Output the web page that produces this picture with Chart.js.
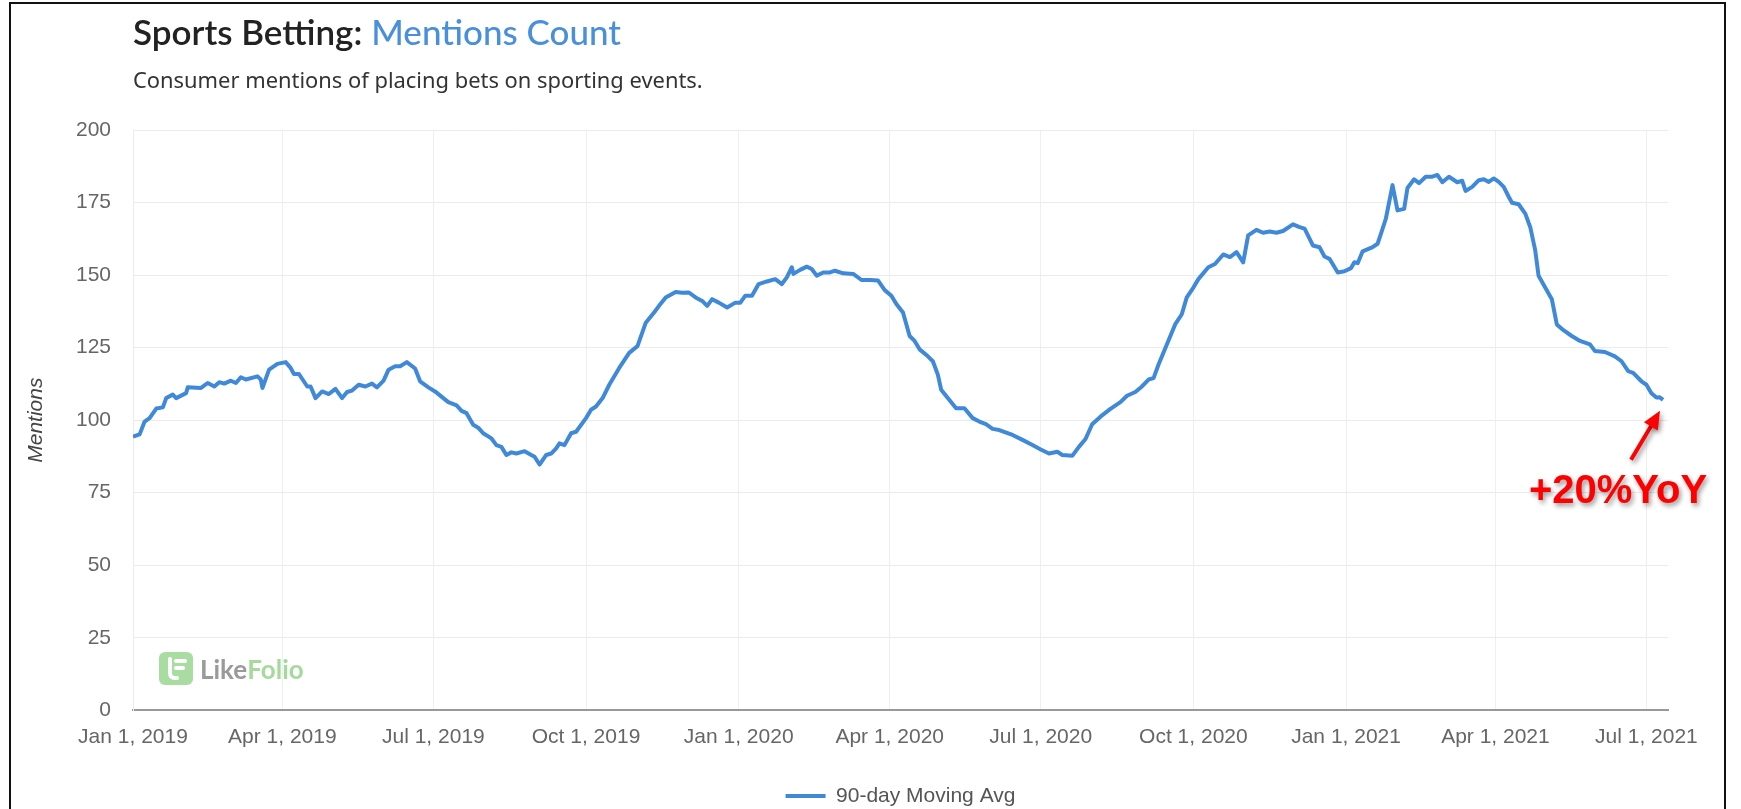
<!DOCTYPE html>
<html>
<head>
<meta charset="utf-8">
<script src="https://cdn.jsdelivr.net/npm/chart.js@4.4.1/dist/chart.umd.min.js"></script>
<style>
  html, body { margin: 0; padding: 0; width: 1741px; height: 809px; overflow: hidden; background: #fff; }
  #frame { position: absolute; left: 9px; top: 2px; width: 1717px; height: 840px; border: 2px solid #111; box-sizing: border-box; }
  #title { position: absolute; left: 133px; top: 11px; font-family: Lato, sans-serif; font-size: 35px; line-height: 40px; white-space: nowrap; }
  #title .a { color: #222; font-weight: 600; }
  #title .b { color: #4a8fdb; font-weight: 500; }
  #subtitle { position: absolute; left: 133px; top: 65px; font-family: "Noto Sans", sans-serif; font-size: 21.9px; line-height: 30px; color: #333; white-space: nowrap; }
  #wrap { position: absolute; left: 0; top: 0; width: 1741px; height: 818px; }
  #logo { position: absolute; left: 159px; top: 652px; height: 33px; display: flex; align-items: center; font-family: Lato, sans-serif; font-weight: 700; font-size: 26px; }
  #logo svg { margin-right: 7px; }
  #logo .like { color: #9a9a9a; }
  #logo .folio { color: #a6d99c; }
</style>
</head>
<body>
<div id="wrap"><canvas id="chart"></canvas></div>
<div id="title"><span class="a">Sports Betting:</span> <span class="b">Mentions Count</span></div>
<div id="subtitle">Consumer mentions of placing bets on sporting events.</div>
<div id="logo">
  <svg width="34" height="33" viewBox="0 0 34 33">
    <rect x="0" y="0" width="34" height="33" rx="6" fill="#a9dca1"/>
    <path d="M11 7 V21 Q11 26 16 26 H18" stroke="#fff" stroke-width="4" fill="none" stroke-linecap="round"/>
    <path d="M17 9 H26 M17 16 H24" stroke="#fff" stroke-width="4" fill="none" stroke-linecap="round"/>
  </svg>
  <span class="like">Like</span><span class="folio">Folio</span>
</div>
<div id="frame"></div>
<script>
// days since Jan 1, 2019
const days = [
  0, 4, 7, 10, 14, 18, 20, 24, 26, 32, 33, 41, 45, 49, 52, 55, 59, 62, 65, 68,
  75, 77, 78, 82, 87, 92, 95, 97, 100, 105, 107, 110, 114, 118, 122, 126, 129, 132, 136, 140,
  144, 147, 151, 154, 158, 161, 165, 170, 173, 178, 182, 187, 190, 195, 198, 201, 205, 208, 211, 216,
  219, 222, 225, 228, 231, 236, 240, 242, 245, 249, 252, 255, 257, 260, 264, 267, 273, 276, 279, 283,
  287, 293, 299, 304, 309, 314, 317, 321, 327, 331, 335, 339, 343, 346, 349, 353, 358, 363, 366, 369,
  373, 377, 382, 387, 391, 394, 397, 398, 402, 406, 409, 412, 416, 420, 423, 428, 434, 439, 444, 449,
  453, 457, 460, 464, 468, 471, 474, 479, 482, 485, 487, 491, 496, 501, 506, 510, 514, 518, 522, 530,
  536, 542, 547, 552, 557, 560, 566, 570, 574, 578, 583, 589, 595, 599, 604, 608, 612, 615, 618, 623,
  628, 632, 635, 639, 642, 648, 652, 657, 661, 665, 669, 672, 677, 681, 685, 689, 693, 699, 703, 706,
  711, 715, 718, 721, 726, 730, 734, 736, 738, 741, 747, 750, 752, 755, 759, 762, 766, 768, 772, 775,
  779, 783, 786, 789, 793, 798, 801, 803, 807, 811, 814, 817, 820, 823, 826, 829, 831, 835, 839, 842,
  845, 847, 851, 855, 858, 862, 867, 872, 878, 881, 887, 893, 897, 901, 904, 909, 912, 915, 918, 920,
  922
];
const mentions = [
  94.3, 95.1, 99.5, 100.7, 104, 104.4, 107.6, 108.8, 107.6, 109.3, 111.3, 111.1, 112.8, 111.6, 113.1, 112.6, 113.6, 112.8, 114.8, 114,
  115.1, 114, 111.1, 117.4, 119.4, 120, 118, 115.9, 115.9, 111.6, 111.6, 107.6, 109.9, 109, 110.8, 107.6, 109.7, 110.2, 112.2, 111.6,
  112.6, 111.3, 113.6, 117.4, 118.6, 118.6, 120, 117.8, 113.4, 111.3, 109.9, 107.6, 106.2, 105.1, 103.2, 102.4, 98.4, 97.4, 95.5, 93.7,
  91.4, 90.8, 88, 88.9, 88.5, 89.3, 88, 87.4, 84.7, 88, 88.5, 90.3, 92, 91.4, 95.5, 96, 100.7, 103.6, 104.7, 107.6,
  112.2, 118, 123.2, 125.5, 133.6, 137.1, 139.4, 142.3, 144.2, 143.9, 144, 142.3, 141.1, 139.4, 141.7, 140.5, 138.8, 140.5, 140.5, 142.9,
  142.9, 146.9, 147.8, 148.6, 146.9, 149.2, 152.7, 150.4, 151.8, 152.9, 152.1, 149.8, 150.9, 150.9, 151.5, 150.6, 150.4, 148.3, 148.3, 148.1,
  144.8, 142.9, 140, 137.1, 129, 127.3, 124.4, 122, 120.3, 115.7, 110.5, 107.6, 104.1, 104.1, 100.7, 99.5, 98.6, 97, 96.6, 94.9,
  93.2, 91.4, 89.9, 88.5, 89.1, 88, 87.7, 90.8, 93.5, 98.6, 101.2, 103.9, 106.2, 108.4, 109.7, 111.6, 114, 114.5, 119.2, 126.1,
  133, 136.5, 142.3, 145.7, 148.6, 152.7, 153.8, 157.1, 156.2, 157.9, 154.4, 163.7, 165.6, 164.6, 165, 164.6, 165.2, 167.5, 166.5, 166,
  160.2, 159.6, 156.4, 155.6, 150.9, 151.3, 152.4, 154.4, 154.1, 158.2, 159.6, 160.8, 164.2, 169.5, 181, 172.3, 172.8, 180, 183, 181.7,
  183.9, 183.9, 184.5, 182, 183.9, 182, 182.5, 179, 180.4, 182.7, 183, 182.1, 183.3, 182.1, 180.4, 177, 174.9, 174.4, 171.2, 166.5,
  158.5, 149.8, 145.7, 141.7, 133, 131, 129, 127.3, 126.1, 123.8, 123.5, 122, 120.3, 116.9, 116.3, 113.4, 112.2, 109.3, 107.8, 107.9,
  107
];
const tickDays = [0, 90, 181, 273, 365, 456, 547, 639, 731, 821, 912];
const tickLabels = ['Jan 1, 2019', 'Apr 1, 2019', 'Jul 1, 2019', 'Oct 1, 2019', 'Jan 1, 2020', 'Apr 1, 2020',
  'Jul 1, 2020', 'Oct 1, 2020', 'Jan 1, 2021', 'Apr 1, 2021', 'Jul 1, 2021'];
const seriesName = '90-day Moving Avg';
const annotationText = '+20%YoY';

const lineColour = '#3f89d8';
const tickFont = { family: '"Liberation Sans", Arial, sans-serif', size: 21 };

// red arrow + label pointing at the latest value
const annotate = {
  id: 'annotate',
  afterDatasetsDraw(chart) {
    const ctx = chart.ctx;
    const n = days.length - 1;
    const px = chart.scales.x.getPixelForValue(days[n]);
    const py = chart.scales.y.getPixelForValue(mentions[n]);
    const tipX = px - 3, tipY = py + 11, tailX = px - 32, tailY = py + 60;
    const ang = Math.atan2(tipY - tailY, tipX - tailX);

    ctx.save();
    ctx.shadowColor = 'rgba(0,0,0,0.4)';
    ctx.shadowBlur = 5;
    ctx.shadowOffsetX = 2;
    ctx.shadowOffsetY = 3;
    ctx.strokeStyle = '#ff0000';
    ctx.fillStyle = '#ff0000';
    ctx.lineWidth = 4;
    ctx.beginPath();
    ctx.moveTo(tailX, tailY);
    ctx.lineTo(tipX - 12 * Math.cos(ang), tipY - 12 * Math.sin(ang));
    ctx.stroke();
    ctx.beginPath();
    ctx.moveTo(tipX, tipY);
    ctx.lineTo(tipX - 18 * Math.cos(ang) + 8 * Math.sin(ang), tipY - 18 * Math.sin(ang) - 8 * Math.cos(ang));
    ctx.lineTo(tipX - 18 * Math.cos(ang) - 8 * Math.sin(ang), tipY - 18 * Math.sin(ang) + 8 * Math.cos(ang));
    ctx.closePath();
    ctx.fill();

    ctx.font = 'bold 40px "Liberation Sans", Arial, sans-serif';
    ctx.textAlign = 'center';
    ctx.textBaseline = 'middle';
    ctx.fillText(annotationText, px - 45, py + 92);
    ctx.restore();
  }
};

new Chart(document.getElementById('chart'), {
  type: 'line',
  data: {
    datasets: [{
      label: seriesName,
      data: days.map((d, i) => ({ x: d, y: mentions[i] })),
      borderColor: lineColour,
      backgroundColor: lineColour,
      borderWidth: 4,
      borderJoinStyle: 'round',
      pointRadius: 0,
      tension: 0,
      fill: false
    }]
  },
  options: {
    responsive: true,
    maintainAspectRatio: false,
    animation: false,
    layout: { padding: { top: 130, right: 73, bottom: 1.5, left: 0 } },
    plugins: {
      tooltip: { enabled: false },
      legend: {
        position: 'bottom',
        fullSize: false,
        labels: {
          usePointStyle: true,
          pointStyle: 'line',
          pointStyleWidth: 40,
          padding: 22,
          color: '#555',
          font: tickFont
        }
      }
    },
    scales: {
      x: {
        type: 'linear',
        min: 0,
        max: 925,
        afterBuildTicks: function (scale) {
          scale.ticks = tickDays.map(v => ({ value: v }));
        },
        ticks: {
          autoSkip: false,
          maxRotation: 0,
          padding: 14,
          color: '#666',
          font: tickFont,
          callback: function (value, index) { return tickLabels[index]; }
        },
        grid: { color: '#efefef', drawTicks: false },
        border: { color: '#999', width: 2 }
      },
      y: {
        min: 0,
        max: 200,
        afterFit: function (scale) { scale.width = 133; },
        ticks: { stepSize: 25, padding: 22, color: '#666', font: tickFont },
        grid: { color: '#ebebeb', drawTicks: false },
        border: { color: '#ebebeb' },
        title: {
          display: true,
          text: 'Mentions',
          color: '#444',
          font: { family: '"Liberation Sans", Arial, sans-serif', size: 21, style: 'italic' },
          padding: { top: 24, bottom: 0 }
        }
      }
    }
  },
  plugins: [annotate]
});
</script>
</body>
</html>
